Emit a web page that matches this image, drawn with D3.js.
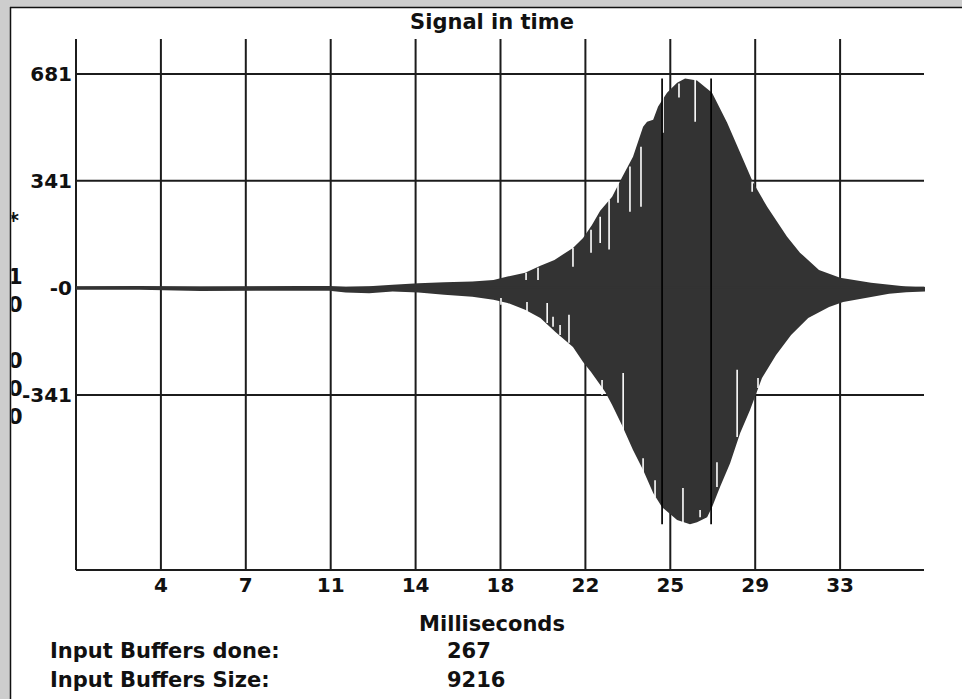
<!DOCTYPE html>
<html>
<head>
    <meta charset="UTF-8">
    <title>Signal in time</title>
    <script src="https://cdn.jsdelivr.net/npm/d3@7"></script>
    <style>
        body {
            margin: 0;
            background: #fff;
        }

        text {
            font-family: "DejaVu Sans", Verdana, sans-serif;
            font-weight: bold;
            fill: #111;
        }

        .grid line {
            stroke: #1c1c1c;
            stroke-width: 2px;
        }
    </style>
</head>
<body>
<svg id="chart"></svg>
<script>
    var title = "Signal in time";
    var xLabel = "Milliseconds";
    var xTickValues = [3.62, 7.24, 10.86, 14.48, 18.1, 21.72, 25.34, 28.96, 32.58];
    var yTickValues = [681, 341, 0, -341];
    var yTickLabels = ["681", "341", "-0", "-341"];
    // y caption squeezed against the window edge, one glyph per row
    var sideChars = ["*", "", "1", "0", "", "0", "0", "0"];
    var statusNames = ["Input Buffers done:", "Input Buffers Size:"];
    var statusValues = [267, 9216];

    // highest sample per column, [ms, value]
    var upper = [
        [0, 5], [2.7, 6], [5.3, 4], [9.5, 6], [10.8, 6], [11.5, 3], [12.5, 5], [13.5, 10],
        [14.6, 15], [15.7, 18], [16.9, 20], [17.8, 25], [18.4, 36], [19.15, 48], [19.8, 70],
        [20.4, 89], [21.19, 127], [21.62, 159], [22.0, 200], [22.35, 245], [22.86, 290],
        [23.28, 351], [23.75, 417], [24.18, 513], [24.35, 529], [24.61, 535], [24.82, 577],
        [25.2, 621], [25.63, 653], [25.97, 666], [26.48, 660], [27.12, 621], [27.76, 526],
        [28.32, 430], [28.87, 335], [29.47, 258], [30.32, 163], [30.87, 112], [31.68, 57],
        [32.58, 32], [33.9, 16], [35.39, 4], [36.2, 1]
    ];
    // lowest sample per column, [ms, value]
    var lower = [
        [0, -6], [2.7, -6], [5.3, -10], [9.5, -9], [10.8, -9], [11.5, -15], [12.5, -17],
        [13.5, -12], [14.6, -15], [15.7, -22], [16.9, -28], [17.8, -38], [18.4, -48],
        [19.15, -70], [19.8, -96], [20.43, -140], [21.19, -188], [21.62, -236], [21.96, -268],
        [22.56, -331], [22.86, -373], [23.28, -437], [23.75, -516], [24.18, -580], [24.61, -653],
        [24.99, -698], [25.63, -739], [26.18, -752], [26.48, -746], [26.91, -730], [27.12, -698],
        [27.46, -634], [27.89, -558], [28.32, -462], [28.74, -389], [29.25, -287], [29.85, -214],
        [30.49, -150], [31.22, -96], [32.11, -61], [32.71, -45], [33.9, -29], [34.67, -19],
        [35.4, -14], [36.2, -12]
    ];
    // columns whose peak falls short of the envelope: [ms, envelope, reached]
    var upperDips = [
        [19.19, 48, 25], [19.7, 64, 25], [21.19, 127, 67], [21.96, 185, 112], [22.35, 226, 143],
        [22.73, 280, 122], [23.11, 335, 271], [23.62, 386, 242], [24.09, 449, 258],
        [25.03, 621, 494], [25.71, 650, 606], [26.4, 663, 529], [28.83, 338, 306]
    ];
    var lowerDips = [
        [18.12, -54, -32], [19.23, -76, -45], [20.09, -112, -48], [20.34, -124, -92],
        [20.64, -150, -118], [21.02, -175, -86], [22.43, -341, -293], [23.33, -453, -271],
        [24.18, -596, -542], [24.69, -666, -612], [25.88, -749, -637], [26.61, -730, -707],
        [27.33, -634, -555], [28.19, -475, -261], [29.08, -319, -287]
    ];
    // full-swing columns drawn in black: [ms, max, min]
    var spikes = [[24.99, 666, -752], [27.08, 666, -752]];

    var w = 962,
        h = 699;

    var svg = d3.select("svg#chart").attr("width", w).attr("height", h);

    // window frame
    svg.append("rect").attr("width", w).attr("height", 7).attr("fill", "#cdcdcd");
    svg.append("rect").attr("width", 10).attr("height", h).attr("fill", "#cdcdcd");
    svg.append("line").attr("x1", 10).attr("x2", w).attr("y1", 7.5).attr("y2", 7.5)
        .attr("stroke", "#111").attr("stroke-width", 1.5);
    svg.append("line").attr("x1", 10.5).attr("x2", 10.5).attr("y1", 7).attr("y2", h)
        .attr("stroke", "#111").attr("stroke-width", 1.5);

    var x = d3.scaleLinear().domain([0, 36.2]).range([76, 925]);
    var y = d3.scaleLinear().domain([-898, 792]).range([570, 39]);

    // grid
    var grid = svg.append("g").attr("class", "grid");
    grid.selectAll("line.v").data(xTickValues).enter().append("line")
        .attr("class", "v")
        .attr("x1", function (d) { return x(d); })
        .attr("x2", function (d) { return x(d); })
        .attr("y1", y.range()[1])
        .attr("y2", y.range()[0]);
    grid.selectAll("line.h").data(yTickValues).enter().append("line")
        .attr("class", "h")
        .attr("x1", x(0))
        .attr("x2", x.range()[1] - 1)
        .attr("y1", function (d) { return y(d); })
        .attr("y2", function (d) { return y(d); });
    grid.append("line").attr("x1", x(0)).attr("x2", x(0))
        .attr("y1", y.range()[1]).attr("y2", y.range()[0]);
    grid.append("line").attr("x1", x(0)).attr("x2", x.range()[1] - 1)
        .attr("y1", y.range()[0]).attr("y2", y.range()[0]);

    // signal envelope
    var topArea = d3.area()
        .x(function (d) { return x(d[0]); })
        .y0(y(0))
        .y1(function (d) { return y(d[1]); });
    svg.append("path").datum(upper).attr("d", topArea).attr("fill", "#333");
    svg.append("path").datum(lower).attr("d", topArea).attr("fill", "#333");
    svg.append("rect")
        .attr("x", x(0)).attr("width", x(36.2) - x(0))
        .attr("y", y(0) - 1).attr("height", 2).attr("fill", "#333");

    svg.selectAll("line.dip").data(upperDips.concat(lowerDips)).enter().append("line")
        .attr("class", "dip")
        .attr("x1", function (d) { return x(d[0]); })
        .attr("x2", function (d) { return x(d[0]); })
        .attr("y1", function (d) { return y(d[1]); })
        .attr("y2", function (d) { return y(d[2]); })
        .attr("stroke", "#fff")
        .attr("stroke-width", 1.6);

    svg.selectAll("line.spike").data(spikes).enter().append("line")
        .attr("class", "spike")
        .attr("x1", function (d) { return x(d[0]); })
        .attr("x2", function (d) { return x(d[0]); })
        .attr("y1", function (d) { return y(d[1]); })
        .attr("y2", function (d) { return y(d[2]); })
        .attr("stroke", "#000")
        .attr("stroke-width", 1.7);

    // labels
    svg.append("text").attr("x", 492).attr("y", 29).attr("text-anchor", "middle")
        .style("font-size", "21px").text(title);

    svg.selectAll("text.ytick").data(yTickValues).enter().append("text")
        .attr("class", "ytick")
        .attr("x", 72)
        .attr("y", function (d) { return y(d) + 7; })
        .attr("text-anchor", "end")
        .style("font-size", "20px")
        .text(function (d, i) { return yTickLabels[i]; });

    svg.selectAll("text.xtick").data(xTickValues).enter().append("text")
        .attr("class", "xtick")
        .attr("x", function (d) { return x(d); })
        .attr("y", 592)
        .attr("text-anchor", "middle")
        .style("font-size", "20px")
        .text(d3.format(".0f"));

    svg.append("text").attr("x", 492).attr("y", 631).attr("text-anchor", "middle")
        .style("font-size", "21px").text(xLabel);

    svg.selectAll("text.sname").data(statusNames).enter().append("text")
        .attr("class", "sname")
        .attr("x", 50)
        .attr("y", function (d, i) { return 658 + i * 29; })
        .style("font-size", "21px")
        .text(function (d) { return d; });
    svg.selectAll("text.sval").data(statusValues).enter().append("text")
        .attr("class", "sval")
        .attr("x", 447)
        .attr("y", function (d, i) { return 658 + i * 29; })
        .style("font-size", "21px")
        .text(function (d) { return d; });

    svg.append("clipPath").attr("id", "edge")
        .append("rect").attr("x", 11.5).attr("y", 0).attr("width", 60).attr("height", h);
    svg.append("g").attr("clip-path", "url(#edge)")
        .selectAll("text").data(sideChars).enter().append("text")
        .attr("x", 8)
        .attr("y", function (d, i) { return 228 + i * 28; })
        .style("font-size", "21px")
        .text(function (d) { return d; });
</script>
</body>
</html>
